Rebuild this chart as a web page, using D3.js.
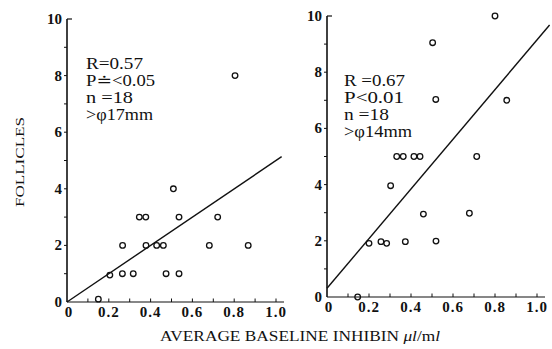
<!DOCTYPE html>
<html>
<head>
<meta charset="utf-8" />
<script src="https://cdnjs.cloudflare.com/ajax/libs/d3/7.8.5/d3.min.js"></script>
<style>
body { margin: 0; background: #fff; }
svg text { fill: #111; }
</style>
</head>
<body>
<svg id="chart" width="552" height="349" font-family="'Times New Roman', 'Liberation Serif', 'DejaVu Serif', serif"></svg>
<script>
// data
const leftX = [0.15, 0.205, 0.265, 0.317, 0.266, 0.346, 0.377, 0.378, 0.429, 0.461, 0.474, 0.509, 0.536, 0.536, 0.681, 0.721, 0.867, 0.804];
const leftY = [0.1, 0.95, 1, 1, 2, 3, 3, 2, 2, 2, 1, 4, 1, 3, 2, 3, 2, 8];
const rightX = [0.80, 0.503, 0.518, 0.856, 0.332, 0.363, 0.414, 0.443, 0.713, 0.303, 0.459, 0.678, 0.20, 0.257, 0.284, 0.373, 0.519, 0.146];
const rightY = [10, 9.05, 7.03, 7, 5, 5, 5, 5, 5, 3.96, 2.95, 2.98, 1.91, 1.97, 1.91, 1.97, 1.99, 0];
// regression lines: [x start, x end], intercept, slope
const leftFit = { xs: [0, 1.027], b: 0, m: 5.0 };
const rightFit = { xs: [0, 1.06], b: 0.31, m: 8.84 };
const leftStats = ["R=0.57", "P\u2250<0.05", "n =18", ">\u03C617mm"];
const rightStats = ["R =0.67", "P<0.01", "n =18", ">\u03C614mm"];
const xTickLabels = ["0", "0.2", "0.4", "0.6", "0.8", "1.0"];
const yTickLabels = ["0", "2", "4", "6", "8", "10"];

const svg = d3.select("#chart");

function panel(opt) {
	let x = d3.scaleLinear().domain([0, 1]).range(opt.xr);
	let y = d3.scaleLinear().domain([0, 10]).range(opt.yr);
	let g = svg.append("g");

	// x axis line with small inward ticks every 0.1
	g.append("line")
		.attr("x1", x(0)).attr("x2", x(1) + opt.xExtra)
		.attr("y1", y(0)).attr("y2", y(0))
		.attr("stroke", "#111").attr("stroke-width", 1.2);
	g.selectAll(".xt").data(d3.range(1, 11).map(d => d / 10)).enter()
		.append("line")
		.attr("x1", d => x(d)).attr("x2", d => x(d))
		.attr("y1", y(0)).attr("y2", y(0) - 3.5)
		.attr("stroke", "#111").attr("stroke-width", 1);
	g.selectAll(".xl").data(xTickLabels).enter()
		.append("text")
		.attr("x", (d, i) => x(i * 0.2) + (i == 0 ? 2 : 0))
		.attr("y", y(0) + 15)
		.attr("text-anchor", "middle")
		.attr("font-size", 15)
		.attr("font-weight", "bold")
		.attr("letter-spacing", 1)
		.text(d => d);

	// y axis
	g.append("line")
		.attr("x1", x(0)).attr("x2", x(0))
		.attr("y1", y(0)).attr("y2", y(10))
		.attr("stroke", "#111").attr("stroke-width", 1.6);
	g.append("line")
		.attr("x1", x(0)).attr("x2", x(0) + 5)
		.attr("y1", y(10)).attr("y2", y(10))
		.attr("stroke", "#111").attr("stroke-width", 1.2);
	g.selectAll(".yt").data(d3.range(1, 10)).enter()
		.append("line")
		.attr("x1", x(0) - 3).attr("x2", x(0))
		.attr("y1", d => y(d)).attr("y2", d => y(d))
		.attr("stroke", "#111").attr("stroke-width", 1);
	g.selectAll(".yl").data(yTickLabels).enter()
		.append("text")
		.attr("x", x(0) - 5)
		.attr("y", (d, i) => y(i * 2) + 5)
		.attr("text-anchor", "end")
		.attr("font-size", 15)
		.attr("font-weight", "bold")
		.text(d => d);

	// regression line
	g.append("line")
		.attr("x1", x(opt.fit.xs[0])).attr("y1", y(opt.fit.b + opt.fit.m * opt.fit.xs[0]))
		.attr("x2", x(opt.fit.xs[1])).attr("y2", y(opt.fit.b + opt.fit.m * opt.fit.xs[1]))
		.attr("stroke", "#111").attr("stroke-width", 1.4);

	// points
	g.selectAll("circle").data(opt.xs).enter()
		.append("circle")
		.attr("cx", d => x(d))
		.attr("cy", (d, i) => y(opt.ys[i]))
		.attr("r", 2.8)
		.attr("fill", "none")
		.attr("stroke", "#111")
		.attr("stroke-width", 1.3);

	// stats text
	g.selectAll(".st").data(opt.stats).enter()
		.append("text")
		.attr("x", opt.tx)
		.attr("y", (d, i) => opt.ty + i * 17)
		.attr("font-size", 16)
		.attr("textLength", (d, i) => opt.widths[i])
		.attr("lengthAdjust", "spacingAndGlyphs")
		.text(d => d);
}

panel({ xr: [67, 276], yr: [302, 19], xExtra: 8, fit: leftFit, xs: leftX, ys: leftY, stats: leftStats, widths: [57, 69, 47, 67], tx: 86, ty: 69 });
panel({ xr: [327, 537], yr: [297, 16], xExtra: 8, fit: rightFit, xs: rightX, ys: rightY, stats: rightStats, widths: [61, 60, 45, 68], tx: 344, ty: 86 });

// axis titles
let title = svg.append("text")
	.attr("x", 160).attr("y", 341)
	.attr("font-size", 15.5)
	.attr("textLength", 280)
	.attr("lengthAdjust", "spacingAndGlyphs");
title.append("tspan").text("AVERAGE BASELINE INHIBIN ");
title.append("tspan").attr("font-style", "italic").text("\u03BCl");
title.append("tspan").text("/m");
title.append("tspan").attr("font-style", "italic").text("l");

svg.append("text")
	.attr("transform", "translate(24,162) rotate(-90)")
	.attr("text-anchor", "middle")
	.attr("font-size", 13)
	.attr("textLength", 90)
	.attr("lengthAdjust", "spacingAndGlyphs")
	.text("FOLLICLES");
</script>
</body>
</html>
